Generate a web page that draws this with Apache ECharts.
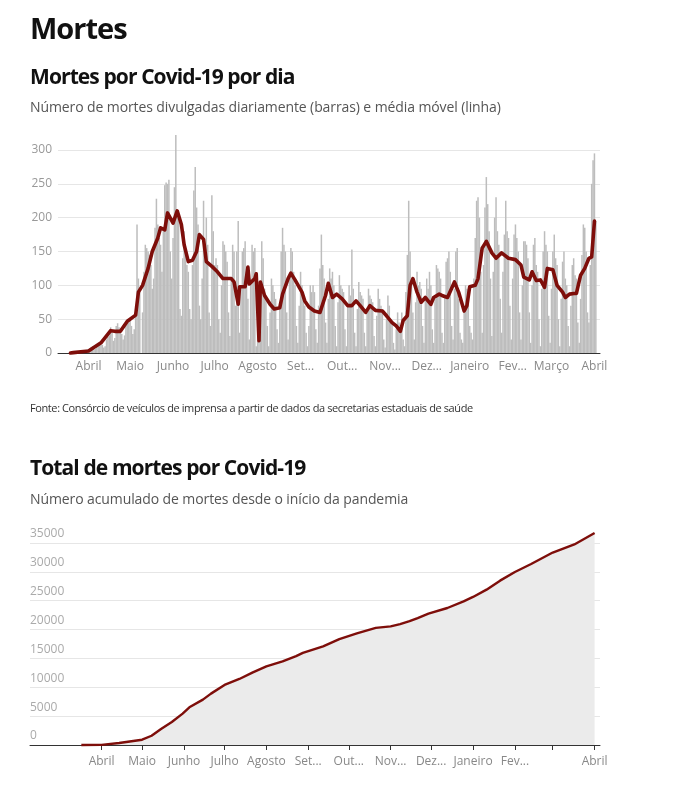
<!DOCTYPE html>
<html>
<head>
<meta charset="utf-8">
<script src="https://cdn.jsdelivr.net/npm/echarts@6/dist/echarts.min.js"></script>
<style>
  body { margin: 0; background: #fff; font-family: 'Open Sans', sans-serif; }
  #page { position: relative; width: 696px; height: 788px; overflow: hidden; }
  #chart { position: absolute; left: 0; top: 0; width: 696px; height: 788px; }
  .txt { position: absolute; left: 30px; line-height: 1; white-space: nowrap; z-index: 2; pointer-events: none; }
  .h1 { top: 13px; font-size: 29px; font-weight: 700; color: #111; letter-spacing: -1px; }
  .h2 { font-size: 21px; font-weight: 700; color: #111; letter-spacing: -0.9px; }
  .sub { font-size: 14px; color: #555; letter-spacing: -0.1px; }
  .src { top: 402px; font-size: 11px; color: #333; letter-spacing: -0.4px; }
</style>
</head>
<body>
<div id="page">
  <div id="chart"></div>
  <div class="txt h1">Mortes</div>
  <div class="txt h2" style="top:66px">Mortes por Covid-19 por dia</div>
  <div class="txt sub" style="top:100px">Número de mortes divulgadas diariamente (barras) e média móvel (linha)</div>
  <div class="txt src">Fonte: Consórcio de veículos de imprensa a partir de dados da secretarias estaduais de saúde</div>
  <div class="txt h2" style="top:457px">Total de mortes por Covid-19</div>
  <div class="txt sub" style="top:492px">Número acumulado de mortes desde o início da pandemia</div>
</div>
<script>
// rótulos do eixo x (primeiro dia de cada mês)
const monthStarts = ['2020-04-01', '2020-05-01', '2020-06-01', '2020-07-01', '2020-08-01', '2020-09-01',
    '2020-10-01', '2020-11-01', '2020-12-01', '2021-01-01', '2021-02-01', '2021-03-01', '2021-04-01'];
const monthLabels = ['Abril', 'Maio', 'Junho', 'Julho', 'Agosto', 'Set...', 'Out...', 'Nov...', 'Dez...',
    'Janeiro', 'Fev...', 'Março', 'Abril'];

// mortes divulgadas por dia, a partir de 19/03/2020 (semanas de quinta a quarta)
const firstDay = [2020, 2, 19];
const dailyDeaths = [
    0, 1, 0, 1, 1, 2, 1,
    2, 3, 4, 2, 3, 5, 6,
    7, 9, 10, 5, 6, 12, 11,
    14, 16, 12, 8, 10, 20, 24,
    26, 38, 30, 18, 22, 40, 44,
    38, 36, 28, 20, 26, 42, 45,
    45, 50, 40, 28, 35, 55, 190,
    110, 90, 0, 60, 120, 160, 155,
    150, 145, 130, 95, 110, 185, 228,
    190, 170, 160, 120, 180, 248, 252,
    250, 256, 150, 110, 170, 245, 322,
    210, 200, 65, 55, 140, 180, 150,
    130, 120, 65, 50, 130, 240, 275,
    215, 190, 70, 50, 110, 225, 150,
    200, 160, 60, 40, 233, 180, 130,
    140, 130, 50, 30, 100, 165, 160,
    150, 135, 60, 25, 110, 160, 150,
    70, 150, 195, 30, 100, 150, 155,
    165, 120, 80, 20, 110, 160, 150,
    155, 10, 70, 20, 90, 165, 140,
    95, 85, 40, 10, 60, 110, 100,
    90, 80, 35, 15, 70, 150, 185,
    160, 150, 60, 20, 110, 155, 150,
    120, 100, 40, 15, 70, 120, 100,
    90, 70, 30, 10, 40, 100, 90,
    100, 90, 35, 15, 70, 125, 175,
    130, 110, 45, 15, 80, 125, 110,
    120, 100, 40, 10, 75, 115, 100,
    95, 90, 35, 10, 70, 100, 85,
    153, 95, 30, 10, 65, 105, 90,
    85, 80, 30, 10, 60, 95, 85,
    80, 75, 25, 10, 55, 95, 80,
    70, 65, 20, 8, 50, 85, 70,
    50, 45, 15, 5, 35, 60, 45,
    35, 60, 20, 10, 90, 145, 225,
    150, 110, 60, 20, 75, 120, 100,
    105, 95, 40, 15, 80, 110, 95,
    120, 100, 35, 15, 80, 130, 125,
    120, 110, 30, 15, 85, 135, 140,
    150, 120, 40, 20, 95, 150, 155,
    80, 30, 20, 15, 60, 100, 95,
    95, 40, 30, 20, 110, 170, 225,
    230, 200, 120, 30, 130, 215, 260,
    220, 180, 110, 25, 120, 200, 230,
    180, 160, 80, 30, 120, 175, 225,
    180, 170, 70, 20, 110, 175, 190,
    170, 150, 60, 20, 100, 165, 165,
    160, 140, 60, 15, 100, 160, 170,
    130, 120, 50, 10, 95, 150, 180,
    160, 150, 55, 15, 95, 150, 175,
    140, 130, 50, 10, 80, 135, 150,
    110, 100, 40, 10, 70, 130, 140,
    115, 110, 45, 15, 80, 145, 190,
    185, 150, 60, 45, 130, 250, 285,
    295, 195
];

// média móvel (linha)
const movingAvg = [
    ['2020-03-19', 0], ['2020-03-21', 0.5], ['2020-04-01', 3], ['2020-04-10', 15], ['2020-04-17', 33],
    ['2020-04-20', 32], ['2020-04-24', 32], ['2020-04-29', 47], ['2020-05-05', 56], ['2020-05-07', 90],
    ['2020-05-10', 100], ['2020-05-14', 125], ['2020-05-17', 150], ['2020-05-21', 170], ['2020-05-23', 185],
    ['2020-05-26', 182], ['2020-05-28', 207], ['2020-06-01', 192], ['2020-06-04', 210], ['2020-06-07', 190],
    ['2020-06-09', 160], ['2020-06-12', 135], ['2020-06-15', 137], ['2020-06-18', 150], ['2020-06-20', 175],
    ['2020-06-23', 168], ['2020-06-25', 135], ['2020-06-29', 128], ['2020-07-03', 120], ['2020-07-07', 110],
    ['2020-07-13', 110], ['2020-07-15', 105], ['2020-07-18', 72], ['2020-07-19', 98], ['2020-07-23', 98],
    ['2020-07-25', 127], ['2020-07-26', 102], ['2020-07-30', 110], ['2020-07-31', 117], ['2020-08-02', 18],
    ['2020-08-03', 105], ['2020-08-06', 85], ['2020-08-10', 72], ['2020-08-13', 65], ['2020-08-17', 67],
    ['2020-08-19', 87], ['2020-08-23', 110], ['2020-08-25', 118], ['2020-08-28', 108], ['2020-09-02', 90],
    ['2020-09-04', 77], ['2020-09-07', 68], ['2020-09-11', 62], ['2020-09-15', 60], ['2020-09-19', 85],
    ['2020-09-21', 103], ['2020-09-24', 82], ['2020-09-27', 87], ['2020-10-01', 80], ['2020-10-05', 70],
    ['2020-10-08', 70], ['2020-10-11', 77], ['2020-10-14', 70], ['2020-10-18', 60], ['2020-10-21', 70],
    ['2020-10-25', 63], ['2020-10-30', 62], ['2020-11-02', 55], ['2020-11-06', 45], ['2020-11-09', 40],
    ['2020-11-12', 32], ['2020-11-14', 48], ['2020-11-17', 55], ['2020-11-19', 100], ['2020-11-21', 110],
    ['2020-11-24', 90], ['2020-11-27', 75], ['2020-11-30', 82], ['2020-12-04', 72], ['2020-12-06', 82],
    ['2020-12-10', 87], ['2020-12-12', 85], ['2020-12-16', 82], ['2020-12-21', 105], ['2020-12-24', 90],
    ['2020-12-28', 62], ['2020-12-30', 70], ['2021-01-01', 98], ['2021-01-05', 100], ['2021-01-07', 110],
    ['2021-01-10', 155], ['2021-01-13', 165], ['2021-01-17', 148], ['2021-01-20', 140], ['2021-01-24', 148],
    ['2021-01-29', 140], ['2021-02-03', 138], ['2021-02-07', 130], ['2021-02-09', 112], ['2021-02-13', 108],
    ['2021-02-15', 120], ['2021-02-18', 107], ['2021-02-21', 108], ['2021-02-24', 97], ['2021-02-26', 125],
    ['2021-03-02', 123], ['2021-03-05', 100], ['2021-03-09', 90], ['2021-03-11', 82], ['2021-03-14', 87],
    ['2021-03-17', 88], ['2021-03-19', 88], ['2021-03-22', 115], ['2021-03-25', 125], ['2021-03-28', 140],
    ['2021-03-30', 142], ['2021-04-01', 195]
];

// total acumulado de mortes
const totalDeaths = [
    ['2020-03-17', 0], ['2020-04-01', 30], ['2020-04-14', 350], ['2020-05-01', 920], ['2020-05-08', 1600],
    ['2020-05-15', 2770], ['2020-05-23', 3990], ['2020-05-31', 5430], ['2020-06-05', 6530], ['2020-06-15', 7860],
    ['2020-06-21', 8900], ['2020-07-01', 10400], ['2020-07-12', 11440], ['2020-07-22', 12590], ['2020-08-01', 13630],
    ['2020-08-13', 14500], ['2020-08-23', 15400], ['2020-08-28', 15950], ['2020-09-12', 17080], ['2020-09-24', 18350],
    ['2020-10-07', 19340], ['2020-10-21', 20300], ['2020-11-01', 20560], ['2020-11-08', 20950], ['2020-11-15', 21450],
    ['2020-11-21', 22000], ['2020-11-29', 22750], ['2020-12-13', 23740], ['2020-12-25', 24900], ['2021-01-01', 25650],
    ['2021-01-11', 26920], ['2021-01-21', 28480], ['2021-02-01', 29980], ['2021-02-13', 31360], ['2021-03-01', 33350],
    ['2021-03-17', 34750], ['2021-04-01', 36740]
];

const FONT = "'Open Sans', sans-serif";
const RED = '#7e0e0a';

function ts(s) {
    const p = s.split('-').map(Number);
    return new Date(p[0], p[1] - 1, p[2]).getTime();
}

const monthTs = monthStarts.map(ts);
const labelByTs = {};
monthTs.forEach((t, i) => { labelByTs[t] = monthLabels[i]; });

const barData = dailyDeaths.map((v, i) =>
    [new Date(firstDay[0], firstDay[1], firstDay[2] + i).getTime(), v]);

// eixo x como valor (timestamps) para posicionar os rótulos nos meses
function dateAxis(gridIndex, min, max, labelValues, withTicks, margin) {
    return {
        gridIndex: gridIndex, type: 'value', min: ts(min), max: ts(max),
        axisLine: { onZero: false, lineStyle: { color: '#333', width: 1 } },
        axisTick: withTicks
            ? { show: true, customValues: monthTs, length: 5, lineStyle: { color: '#333' } }
            : { show: false },
        splitLine: { show: false },
        axisLabel: {
            customValues: labelValues, color: '#888', fontSize: 12, margin: margin,
            fontFamily: FONT, hideOverlap: false,
            formatter: v => labelByTs[v] || ''
        }
    };
}

const chart = echarts.init(document.getElementById('chart'));
chart.setOption({
    animation: false,
    textStyle: { fontFamily: FONT },
    grid: [
        { left: 58, right: 96, top: 150, height: 203 },
        { left: 30, right: 96, top: 543, height: 202 }
    ],
    xAxis: [
        dateAxis(0, '2020-03-10', '2021-04-05', monthTs, false, 8),
        dateAxis(1, '2020-02-08', '2021-04-05', monthTs.filter((t, i) => monthLabels[i] !== 'Março'), true, 11)
    ],
    yAxis: [
        {
            gridIndex: 0, type: 'value', min: 0, max: 300, interval: 50,
            axisLine: { show: false }, axisTick: { show: false },
            splitLine: { lineStyle: { color: '#e6e6e6' } },
            axisLabel: { color: '#999', fontSize: 12, margin: 6, fontFamily: FONT }
        },
        {
            gridIndex: 1, type: 'value', min: 0, max: 35000, interval: 5000,
            axisLine: { show: false }, axisTick: { show: false },
            splitLine: { lineStyle: { color: '#e6e6e6' } },
            axisLabel: {
                inside: true, verticalAlign: 'bottom', margin: 0, padding: [0, 0, 3, 0],
                color: '#aaa', fontSize: 12, fontFamily: FONT,
                formatter: v => String(v)
            }
        }
    ],
    series: [
        {
            type: 'bar', xAxisIndex: 0, yAxisIndex: 0, data: barData,
            barWidth: 1.5, clip: false, silent: true,
            itemStyle: { color: '#bdbdbd' }
        },
        {
            type: 'line', xAxisIndex: 0, yAxisIndex: 0, data: movingAvg.map(d => [ts(d[0]), d[1]]),
            showSymbol: false, clip: false, silent: true,
            lineStyle: { color: RED, width: 3.6, join: 'round', cap: 'round' }
        },
        {
            type: 'line', xAxisIndex: 1, yAxisIndex: 1, data: totalDeaths.map(d => [ts(d[0]), d[1]]),
            showSymbol: false, clip: false, silent: true,
            lineStyle: { color: RED, width: 2.4 },
            areaStyle: { color: '#ebebeb', opacity: 1 }
        }
    ]
});
</script>
</body>
</html>
